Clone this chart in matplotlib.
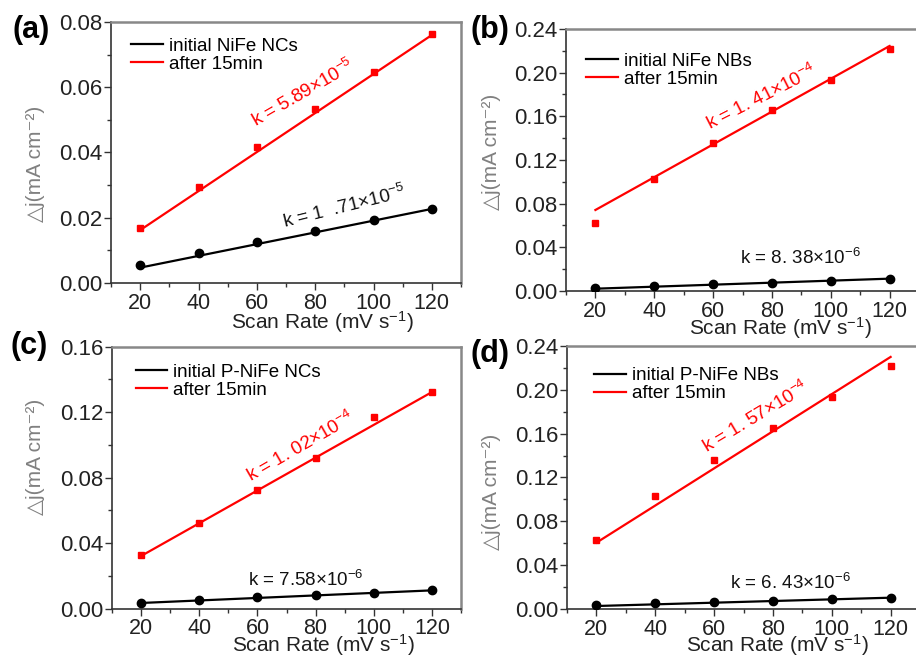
import numpy as np
import matplotlib
matplotlib.use("Agg")
import matplotlib.pyplot as plt
from matplotlib.ticker import MultipleLocator, AutoMinorLocator

plt.rcParams['font.family'] = ['Liberation Sans', 'DejaVu Sans']
plt.rcParams['mathtext.fontset'] = 'custom'
plt.rcParams['mathtext.rm'] = 'Liberation Sans'
plt.rcParams['mathtext.it'] = 'Liberation Sans'

scan = [20, 40, 60, 80, 100, 120]
fit_x = [20, 120]

# (a) NiFe NCs
a_init = [0.0054, 0.0091, 0.0127, 0.0160, 0.0193, 0.0227]
a_after = [0.0167, 0.0295, 0.0417, 0.0534, 0.0648, 0.0762]
a_fit_init = [0.0047, 0.0227]
a_fit_after = [0.0162, 0.0760]

# (b) NiFe NBs
b_init = [0.0027, 0.0046, 0.0061, 0.0076, 0.0094, 0.0113]
b_after = [0.0620, 0.1026, 0.1358, 0.1655, 0.1935, 0.2219]
b_fit_init = [0.0021, 0.0113]
b_fit_after = [0.0742, 0.2244]

# (c) P-NiFe NCs
c_init = [0.0037, 0.0051, 0.0069, 0.0083, 0.0098, 0.0112]
c_after = [0.0326, 0.0525, 0.0725, 0.0918, 0.1168, 0.1321]
c_fit_init = [0.0035, 0.0112]
c_fit_after = [0.0322, 0.1323]

# (d) P-NiFe NBs
d_init = [0.0037, 0.0052, 0.0067, 0.0076, 0.0091, 0.0103]
d_after = [0.0627, 0.1031, 0.1360, 0.1655, 0.1935, 0.2214]
d_fit_init = [0.0027, 0.0103]
d_fit_after = [0.0605, 0.2300]

panels = [
    dict(tag="(a)", rect=[0.1212, 0.5693, 0.3821, 0.3973], ymax=0.08, ystep=0.02,
         init=a_init, after=a_after, fi=a_fit_init, fa=a_fit_after,
         leg="initial NiFe NCs", leg_xy=(0.02, 0.99),
         k_red=r"k = 5.89$\times$10$^{-5}$", red_xy=(75.8, 0.0582), red_rot=30,
         k_blk=r"k = 1  .71$\times$10$^{-5}$", blk_xy=(89.9, 0.0233), blk_rot=14,
         tag_xy=(13, 30), ylab=(-0.217, 0.456), xlab=(0.603, -0.148)),
    dict(tag="(b)", rect=[0.6179, 0.5571, 0.3854, 0.3988], ymax=0.24, ystep=0.04,
         init=b_init, after=b_after, fi=b_fit_init, fa=b_fit_after,
         leg="initial NiFe NBs", leg_xy=(0.02, 0.96),
         k_red=r"k = 1. 41$\times$10$^{-4}$", red_xy=(76.5, 0.1777), red_rot=27,
         k_blk=r"k = 8. 38$\times$10$^{-6}$", blk_xy=(89.7, 0.030), blk_rot=0,
         tag_xy=(471, 30), ylab=(-0.21, 0.53), xlab=(0.606, -0.142)),
    dict(tag="(c)", rect=[0.1223, 0.0735, 0.3810, 0.3988], ymax=0.16, ystep=0.04,
         init=c_init, after=c_after, fi=c_fit_init, fa=c_fit_after,
         leg="initial P-NiFe NCs", leg_xy=(0.03, 0.985),
         k_red=r"k = 1. 02$\times$10$^{-4}$", red_xy=(74.8, 0.0988), red_rot=30,
         k_blk=r"k = 7.58$\times$10$^{-6}$", blk_xy=(76.5, 0.0175), blk_rot=0,
         tag_xy=(10, 346), ylab=(-0.218, 0.579), xlab=(0.605, -0.138)),
    dict(tag="(d)", rect=[0.6190, 0.0731, 0.3854, 0.4003], ymax=0.24, ystep=0.04,
         init=d_init, after=d_after, fi=d_fit_init, fa=d_fit_after,
         leg="initial P-NiFe NBs", leg_xy=(0.04, 0.97),
         k_red=r"k = 1. 57$\times$10$^{-4}$", red_xy=(74.1, 0.175), red_rot=31,
         k_blk=r"k = 6. 43$\times$10$^{-6}$", blk_xy=(85.8, 0.0237), blk_rot=0,
         tag_xy=(471, 354), ylab=(-0.215, 0.445), xlab=(0.595, -0.136)),
]

fig = plt.figure(figsize=(9.16, 6.57), dpi=100)

for p in panels:
    ax = fig.add_axes(p["rect"])
    ax.plot(scan, p["init"], "o", color="black", ms=6, zorder=3)
    ax.plot(scan, p["after"], "s", color="#ff0000", ms=5, zorder=3)
    l1, = ax.plot(fit_x, p["fi"], "-", color="black", lw=1.6)
    l2, = ax.plot(fit_x, p["fa"], "-", color="#ff0000", lw=1.6)
    ax.set_xlim(10, 130)
    ax.set_ylim(0, p["ymax"])
    ax.xaxis.set_major_locator(MultipleLocator(20))
    ax.xaxis.set_minor_locator(AutoMinorLocator(2))
    ax.yaxis.set_major_locator(MultipleLocator(p["ystep"]))
    ax.yaxis.set_minor_locator(AutoMinorLocator(2))
    ax.yaxis.set_major_formatter(matplotlib.ticker.FormatStrFormatter("%.2f"))
    ax.tick_params(which="major", direction="out", length=5, width=1,
                   labelsize=16, colors="#333333", labelcolor="#222222")
    ax.tick_params(axis="y", which="major", pad=1)
    ax.tick_params(axis="x", which="major", pad=2, labelsize=15.5)
    ax.tick_params(which="minor", direction="out", length=3, width=1, colors="#333333")
    for s in ["left", "bottom"]:
        ax.spines[s].set_color("#333333")
        ax.spines[s].set_linewidth(1.2)
    for s in ["top", "right"]:
        ax.spines[s].set_color("#888888")
        ax.spines[s].set_linewidth(1.8)

    ax.set_xlabel("Scan Rate (mV s$^{-1}$)", fontsize=15, color="#222222", va="center")
    ax.xaxis.set_label_coords(*p["xlab"])
    ax.set_ylabel("△j(mA cm⁻²)", fontsize=15, color="#808080", va="center")
    ax.yaxis.set_label_coords(*p["ylab"])

    ax.legend([l1, l2], [p["leg"], "after 15min"], loc="upper left",
              bbox_to_anchor=p["leg_xy"], frameon=False, fontsize=13.5,
              handlelength=1.7, handletextpad=0.3, labelspacing=0.05,
              borderpad=0.2)

    ax.text(*p["red_xy"], p["k_red"], color="#ff0000", fontsize=13.5,
            rotation=p["red_rot"], ha="center", va="center", rotation_mode="anchor")
    ax.text(*p["blk_xy"], p["k_blk"], color="#111111", fontsize=13.5,
            rotation=p["blk_rot"], ha="center", va="center", rotation_mode="anchor")

    fig.text(p["tag_xy"][0] / 916, 1 - p["tag_xy"][1] / 657, p["tag"],
             fontsize=22, fontweight="bold", ha="left", va="center")

fig.savefig("out.png", dpi=100)
